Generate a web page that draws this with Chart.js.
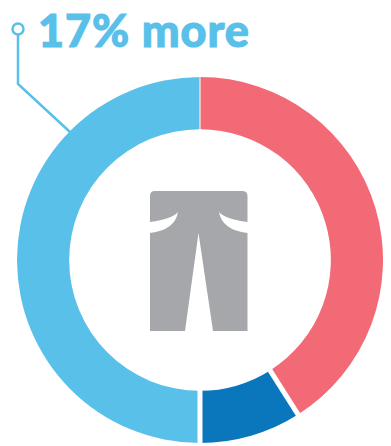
<!DOCTYPE html>
<html lang="en">
  <head>
    <meta charset="UTF-8" />
    <title>17% more</title>
    <script src="https://cdn.jsdelivr.net/npm/chart.js@4"></script>
    <style>
      html, body { margin: 0; background: #fff; overflow: hidden; }
      #wrap { position: relative; width: 391px; height: 446px; }
      #ring { position: absolute; left: 17px; top: 77px; }
      #art { position: absolute; left: 0; top: 0; }
      #headline {
        position: absolute; left: 38px; top: 3px;
        font: 900 45px Lato, sans-serif; color: #58c0e9; white-space: nowrap;
        letter-spacing: 0.9px; -webkit-text-stroke: 1px #58c0e9;
      }
    </style>
  </head>
  <body>
    <div id="wrap">
      <svg id="art" width="391" height="446">
        <!-- callout from the headline to the ring -->
        <circle cx="18" cy="29" r="5.5" fill="none" stroke="#58c0e9" stroke-width="2.5" />
        <polyline points="18,35 18,84 70,132" fill="none" stroke="#58c0e9" stroke-width="2.5" />
        <!-- trousers icon -->
        <path fill="#a5a7aa" d="M155,191 H242 Q247.5,191 247.5,196 V222 Q225,219 219,212
          Q222,230 247.5,233 V331 H213 L198.5,233 L185,331 H150 V233 Q175,230 178,212 Q172,219 150,222 V196 Q150,191 155,191 Z" />
      </svg>
      <div id="headline">17% more</div>
      <canvas id="ring" width="366" height="366"></canvas>
    </div>

    <script>
      const segments = ["Red", "Dark blue", "Light blue"];
      const shares = [41, 9, 50];
      const colors = ["#f26a75", "#0a77bd", "#58c0e9"];
      // white gap drawn at the start of each segment
      const gaps = [1, 5, 5];

      const gapLines = {
        id: "gapLines",
        afterDatasetsDraw(chart) {
          const ctx = chart.ctx;
          chart.getDatasetMeta(0).data.forEach((arc, i) => {
            const a = arc.startAngle;
            ctx.save();
            ctx.strokeStyle = "#fff";
            ctx.lineWidth = gaps[i];
            ctx.beginPath();
            ctx.moveTo(arc.x + Math.cos(a) * (arc.innerRadius - 1), arc.y + Math.sin(a) * (arc.innerRadius - 1));
            ctx.lineTo(arc.x + Math.cos(a) * (arc.outerRadius + 1), arc.y + Math.sin(a) * (arc.outerRadius + 1));
            ctx.stroke();
            ctx.restore();
          });
        },
      };

      new Chart(document.getElementById("ring"), {
        type: "doughnut",
        data: {
          labels: segments,
          datasets: [{ data: shares, backgroundColor: colors, borderWidth: 0 }],
        },
        options: {
          responsive: false,
          animation: false,
          cutout: "71.5%",
          plugins: { legend: { display: false }, tooltip: { enabled: false } },
        },
        plugins: [gapLines],
      });
    </script>
  </body>
</html>
